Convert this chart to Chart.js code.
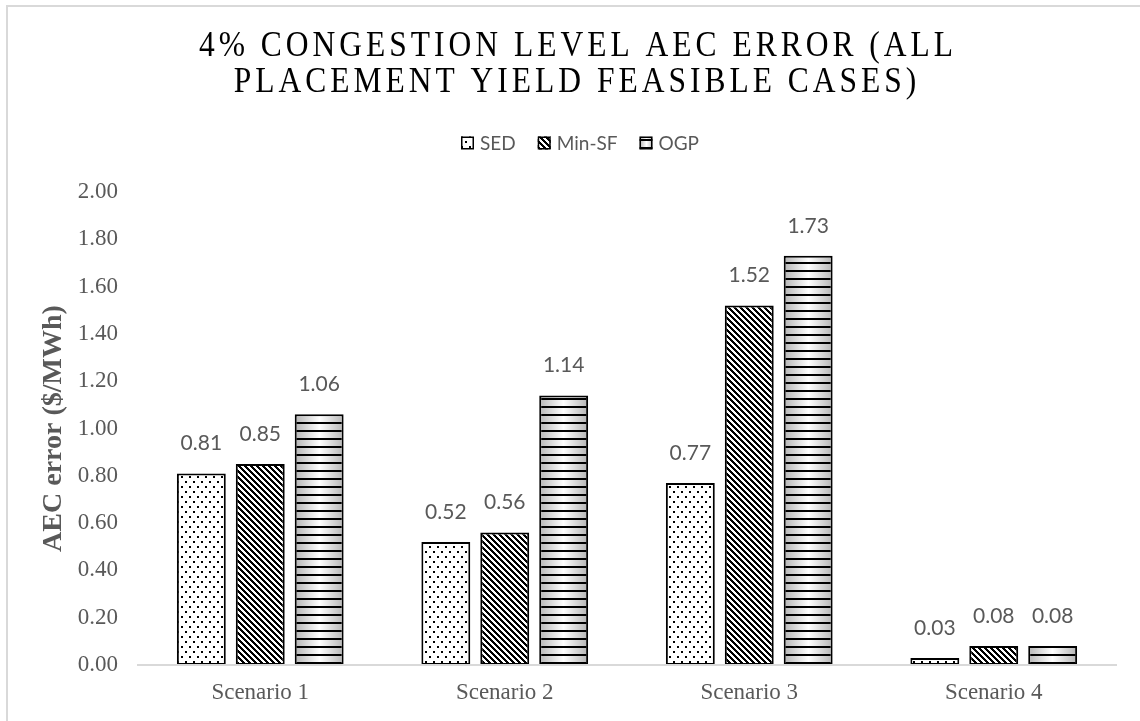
<!DOCTYPE html>
<html>
<head>
<meta charset="utf-8">
<script src="https://cdn.jsdelivr.net/npm/chart.js@4.4.1/dist/chart.umd.min.js"></script>
<style>
  html, body { margin: 0; padding: 0; background: #fff; }
  #wrap { width: 1140px; height: 721px; position: relative; }
</style>
</head>
<body>
<div id="wrap"><canvas id="c" width="1140" height="721"></canvas></div>
<script>
// Chart text and values
const titleLines = ['4% CONGESTION LEVEL AEC ERROR (ALL', 'PLACEMENT YIELD FEASIBLE CASES)'];
const categories = ['Scenario 1', 'Scenario 2', 'Scenario 3', 'Scenario 4'];
const seriesNames = ['SED', 'Min-SF', 'OGP'];
const sedValues = [0.81, 0.52, 0.77, 0.03];
const minSfValues = [0.85, 0.56, 1.52, 0.08];
const ogpValues = [1.06, 1.14, 1.73, 0.08];
const yAxisTitle = 'AEC error ($/MWh)';
const yMin = 0, yMax = 2, yStep = 0.2;

const canvas = document.getElementById('c');
const mainCtx = canvas.getContext('2d');

const SERIF = '"Liberation Serif", "Times New Roman", serif';
const SANS = 'Lato, "Open Sans", sans-serif';
const GREY_TEXT = '#595959';

// Dotted fill
function makeDotPattern() {
  const t = document.createElement('canvas');
  t.width = 8; t.height = 10;
  const g = t.getContext('2d');
  g.fillStyle = '#fff'; g.fillRect(0, 0, 8, 10);
  g.fillStyle = '#000';
  g.fillRect(1, 1, 2, 2);
  g.fillRect(5, 6, 2, 2);
  return mainCtx.createPattern(t, 'repeat');
}

// Wide downward diagonal fill
function makeDiagPattern() {
  const n = 6;
  const t = document.createElement('canvas');
  t.width = n; t.height = n;
  const g = t.getContext('2d');
  const img = g.createImageData(n, n);
  for (let y = 0; y < n; y++) {
    for (let x = 0; x < n; x++) {
      const k = (((x - y) % n) + n) % n;
      const v = k < 3 ? 0 : 255;
      const i = (y * n + x) * 4;
      img.data[i] = v; img.data[i + 1] = v; img.data[i + 2] = v; img.data[i + 3] = 255;
    }
  }
  g.putImageData(img, 0, 0);
  return mainCtx.createPattern(t, 'repeat');
}

// Horizontal-line fill with a side-to-side grey shading, aligned to a box
function makeStripeFill(left, width, originY) {
  const w = Math.max(1, Math.round(width));
  const t = document.createElement('canvas');
  t.width = w; t.height = 8;
  const g = t.getContext('2d');
  const grad = g.createLinearGradient(0, 0, w, 0);
  grad.addColorStop(0, '#b4b4b4');
  grad.addColorStop(0.5, '#ffffff');
  grad.addColorStop(1, '#b4b4b4');
  g.fillStyle = grad; g.fillRect(0, 0, w, 8);
  g.fillStyle = '#000'; g.fillRect(0, 0, w, 2);
  const p = mainCtx.createPattern(t, 'repeat');
  p.setTransform(new DOMMatrix().translate(Math.round(left), originY));
  return p;
}

const dotFill = makeDotPattern();
const diagFill = makeDiagPattern();

function ogpFill(context) {
  const chart = context.chart;
  const meta = chart.getDatasetMeta(context.datasetIndex);
  const el = meta.data[context.dataIndex];
  if (!el || !el.width || !chart.chartArea) return '#d0d0d0';
  return makeStripeFill(el.x - el.width / 2, el.width, Math.round(chart.chartArea.bottom) - 3);
}

// Outer frame of the chart
const framePlugin = {
  id: 'frame',
  beforeDraw(chart) {
    const ctx = chart.ctx;
    ctx.save();
    ctx.strokeStyle = '#d9d9d9';
    ctx.lineWidth = 2;
    ctx.beginPath();
    ctx.moveTo(7, 721); ctx.lineTo(7, 6); ctx.lineTo(1140, 6);
    ctx.stroke();
    ctx.restore();
  }
};

// Spaced, slightly condensed capitals title
function drawSpacedText(ctx, text, cx, cy, spacing, squeeze) {
  const chars = Array.from(text);
  const widths = chars.map(ch => ctx.measureText(ch).width * squeeze);
  const total = widths.reduce((a, b) => a + b, 0) + spacing * (chars.length - 1);
  let x = cx - total / 2;
  chars.forEach((ch, i) => {
    ctx.save();
    ctx.translate(x, cy);
    ctx.scale(squeeze, 1);
    ctx.fillText(ch, 0, 0);
    ctx.restore();
    x += widths[i] + spacing;
  });
}

const titlePlugin = {
  id: 'spacedTitle',
  afterDraw(chart) {
    const ctx = chart.ctx;
    ctx.save();
    ctx.font = '35px ' + SERIF;
    ctx.fillStyle = '#000';
    ctx.textAlign = 'left';
    ctx.textBaseline = 'middle';
    drawSpacedText(ctx, titleLines[0], 576, 47, 4, 0.9);
    drawSpacedText(ctx, titleLines[1], 575, 83, 4, 0.9);
    ctx.restore();
  }
};

// Legend row under the title
const legendPlugin = {
  id: 'patternLegend',
  afterDraw(chart) {
    const ctx = chart.ctx;
    const box = 13, gap = 6, itemGap = 22, cy = 143, cx = 580;
    ctx.save();
    ctx.font = '19px ' + SANS;
    ctx.textBaseline = 'middle';
    ctx.textAlign = 'left';
    const items = chart.data.datasets.map(ds => ({ label: ds.label, w: ctx.measureText(ds.label).width }));
    const total = items.reduce((a, it) => a + box + gap + it.w, 0) + itemGap * (items.length - 1);
    let x = cx - total / 2;
    items.forEach((it, i) => {
      const top = cy - box / 2;
      let fill;
      if (i === 0) fill = dotFill;
      else if (i === 1) fill = diagFill;
      else fill = makeStripeFill(x, box, Math.round(top) + 2);
      ctx.fillStyle = fill;
      ctx.fillRect(x, top, box, box);
      ctx.strokeStyle = '#000';
      ctx.lineWidth = 1.5;
      ctx.strokeRect(x + 0.75, top + 0.75, box - 1.5, box - 1.5);
      ctx.fillStyle = GREY_TEXT;
      ctx.fillText(it.label, x + box + gap, cy + 1);
      x += box + gap + it.w + itemGap;
    });
    ctx.restore();
  }
};

// Value printed above each bar
const valueLabelPlugin = {
  id: 'valueLabels',
  afterDatasetsDraw(chart) {
    const ctx = chart.ctx;
    ctx.save();
    ctx.font = '21px ' + SANS;
    ctx.fillStyle = GREY_TEXT;
    ctx.textAlign = 'center';
    ctx.textBaseline = 'middle';
    chart.data.datasets.forEach((ds, i) => {
      chart.getDatasetMeta(i).data.forEach((el, j) => {
        ctx.fillText(Number(ds.data[j]).toFixed(2), el.x, el.y - 30);
      });
    });
    ctx.restore();
  }
};

const barCommon = {
  borderColor: '#000',
  borderWidth: 2,
  borderSkipped: false,
  categoryPercentage: 0.723,
  barPercentage: 0.83
};

const chart = new Chart(mainCtx, {
  type: 'bar',
  data: {
    labels: categories,
    datasets: [
      Object.assign({ label: seriesNames[0], data: sedValues, backgroundColor: dotFill }, barCommon),
      Object.assign({ label: seriesNames[1], data: minSfValues, backgroundColor: diagFill }, barCommon),
      Object.assign({ label: seriesNames[2], data: ogpValues, backgroundColor: ogpFill }, barCommon)
    ]
  },
  options: {
    responsive: false,
    animation: false,
    events: [],
    layout: { padding: { top: 192, right: 24, bottom: 0, left: 0 } },
    plugins: {
      legend: { display: false },
      title: { display: false },
      tooltip: { enabled: false }
    },
    scales: {
      x: {
        grid: { display: false, drawTicks: false },
        border: { display: true, color: '#d9d9d9', width: 2, z: 1 },
        ticks: { font: { family: SERIF, size: 23 }, color: GREY_TEXT, padding: 14 },
        afterFit(scale) { scale.height = 56; }
      },
      y: {
        min: yMin,
        max: yMax,
        grid: { display: false, drawTicks: false },
        border: { display: false },
        ticks: {
          stepSize: yStep,
          font: { family: SERIF, size: 23 },
          color: GREY_TEXT,
          padding: 20,
          callback: v => Number(v).toFixed(2)
        },
        title: {
          display: true,
          text: yAxisTitle,
          font: { family: SERIF, size: 28, weight: 'bold' },
          color: GREY_TEXT,
          padding: { top: 37, bottom: 0 }
        },
        afterFit(scale) { scale.width = 138; }
      }
    }
  },
  plugins: [framePlugin, valueLabelPlugin, titlePlugin, legendPlugin]
});

// Second pass so the striped fill can align with each bar's final position
chart.update('none');
</script>
</body>
</html>
